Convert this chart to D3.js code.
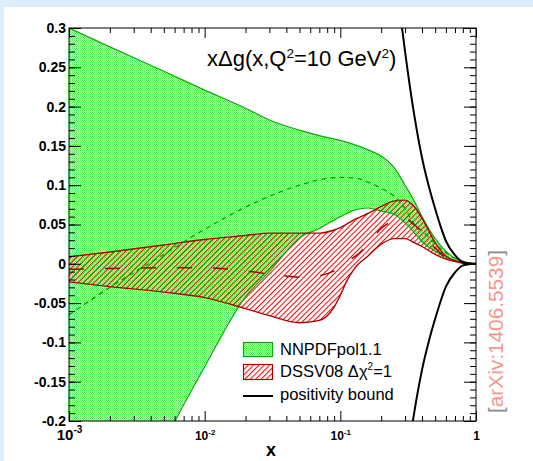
<!DOCTYPE html>
<html>
<head>
<meta charset="utf-8">
<script src="https://cdn.jsdelivr.net/npm/d3@7"></script>
<style>
  html, body { margin: 0; padding: 0; background: #ddedfa; }
  svg { display: block; }
  text { font-family: "Liberation Sans", Arial, Helvetica, sans-serif; }
</style>
</head>
<body>
<svg id="chart" width="533" height="461"></svg>
<script>
// ---- NNPDFpol1.1 band: x, upper edge, central value, lower edge ----
const xNNPDF      = [0.001, 0.002, 0.005, 0.01, 0.02, 0.03, 0.05, 0.07, 0.1, 0.13, 0.16, 0.2, 0.25, 0.3, 0.35, 0.4, 0.5, 0.6, 0.7, 0.8, 0.9, 1.0];
const nnpdfUpper  = [0.300, 0.276, 0.245, 0.221, 0.198, 0.183, 0.170, 0.163, 0.157, 0.151, 0.145, 0.137, 0.122, 0.100, 0.080, 0.060, 0.032, 0.016, 0.007, 0.003, 0.001, 0];
const nnpdfCentral= [-0.065, -0.030, 0.012, 0.044, 0.072, 0.086, 0.100, 0.107, 0.110, 0.109, 0.104, 0.096, 0.086, 0.070, 0.050, 0.042, 0.026, 0.014, 0.007, 0.003, 0.001, 0];
const nnpdfLower  = [-0.58, -0.40, -0.229, -0.131, -0.042, -0.010, 0.033, 0.045, 0.060, 0.069, 0.071, 0.067, 0.063, 0.052, 0.040, 0.028, 0.016, 0.008, 0.004, 0.0015, 0.0004, 0];

// ---- DSSV08 band (delta chi^2 = 1) ----
const xDSSV       = [0.001, 0.002, 0.005, 0.01, 0.02, 0.03, 0.05, 0.07, 0.09, 0.1, 0.11, 0.13, 0.16, 0.2, 0.25, 0.3, 0.35, 0.4, 0.5, 0.6, 0.7, 0.8, 0.9, 1.0];
const dssvUpper   = [0.009, 0.015, 0.024, 0.031, 0.036, 0.039, 0.039, 0.039, 0.043, 0.046, 0.050, 0.057, 0.064, 0.073, 0.080, 0.081, 0.073, 0.058, 0.027, 0.010, 0.004, 0.001, 0.0003, 0];
const dssvCentral = [-0.007, -0.006, -0.005, -0.005, -0.009, -0.013, -0.017, -0.015, -0.009, -0.004, 0.002, 0.010, 0.025, 0.045, 0.055, 0.057, 0.050, 0.040, 0.020, 0.008, 0.003, 0.001, 0.0002, 0];
const dssvLower   = [-0.023, -0.029, -0.036, -0.043, -0.057, -0.066, -0.075, -0.072, -0.055, -0.040, -0.024, -0.004, 0.010, 0.025, 0.032, 0.032, 0.027, 0.022, 0.012, 0.006, 0.003, 0.001, 0.0002, 0];

// ---- positivity bound |x Δg| <= x g ----
const xPositivity = [0.22, 0.25, 0.28, 0.3, 0.35, 0.4, 0.45, 0.5, 0.55, 0.6, 0.7, 0.8, 0.9, 1.0];
const positivity  = [0.45, 0.37, 0.31, 0.27, 0.19, 0.135, 0.098, 0.07, 0.047, 0.029, 0.011, 0.002, 0.0004, 0];

// ---- axis ticks ----
const yMajorTicks  = [0.3, 0.25, 0.2, 0.15, 0.1, 0.05, 0, -0.05, -0.1, -0.15, -0.2];
const yTickLabels  = ["0.3", "0.25", "0.2", "0.15", "0.1", "0.05", "0", "-0.05", "-0.1", "-0.15", "-0.2"];
const xMajorTicks  = [0.001, 0.01, 0.1, 1];
const xTickBases   = ["10", "10", "10", "1"];
const xTickExps    = ["-3", "-2", "-1", ""];

const legendLabels = ["NNPDFpol1.1", "DSSV08 Δχ²=1", "positivity bound"];

// ---------------------------------------------------------------
const W = 533, H = 461;
const plot = { left: 69, right: 476, top: 28, bottom: 421 };

const svg = d3.select("#chart");

svg.append("rect").attr("x", 4).attr("y", 7).attr("width", W - 4).attr("height", H - 7).attr("fill", "#ffffff");

const x = d3.scaleLog().domain([0.001, 1]).range([plot.left, plot.right]);
const y = d3.scaleLinear().domain([-0.2, 0.3]).range([plot.bottom, plot.top]);

const defs = svg.append("defs");

// dotted green fill with faint horizontal banding
const gp = defs.append("pattern").attr("id", "greenFill")
  .attr("patternUnits", "userSpaceOnUse").attr("width", 2).attr("height", 4);
const gCells = [
  [0, 0, "#55ea55"], [1, 0, "#c8ffc8"],
  [0, 1, "#c8ffc8"], [1, 1, "#55ea55"],
  [0, 2, "#55ea55"], [1, 2, "#c8ffc8"],
  [0, 3, "#8cf58c"], [1, 3, "#8cf58c"]
];
gp.selectAll("rect").data(gCells).join("rect")
  .attr("x", d => d[0]).attr("y", d => d[1]).attr("width", 1).attr("height", 1)
  .attr("fill", d => d[2]).attr("shape-rendering", "crispEdges");

// red diagonal hatching
const hatchStep = 3.8;
const rp = defs.append("pattern").attr("id", "redHatch")
  .attr("patternUnits", "userSpaceOnUse").attr("width", hatchStep).attr("height", hatchStep)
  .attr("patternTransform", "rotate(45)");
rp.append("line").attr("x1", 0.5).attr("y1", 0).attr("x2", 0.5).attr("y2", hatchStep)
  .attr("stroke", "#ff0000").attr("stroke-width", 1);

defs.append("clipPath").attr("id", "plotClip").append("rect")
  .attr("x", plot.left).attr("y", plot.top)
  .attr("width", plot.right - plot.left).attr("height", plot.bottom - plot.top);

const g = svg.append("g").attr("clip-path", "url(#plotClip)");

const curve = d3.curveMonotoneX;
const bandArea = (xs, lo, hi) => d3.area()
  .x((d, i) => x(xs[i])).y0((d, i) => y(lo[i])).y1((d, i) => y(hi[i])).curve(curve)(xs);
const linePath = (xs, vs) => d3.line()
  .x((d, i) => x(xs[i])).y((d, i) => y(vs[i])).curve(curve)(xs);

// bands
g.append("path").attr("d", bandArea(xNNPDF, nnpdfLower, nnpdfUpper)).attr("fill", "url(#greenFill)");
g.append("path").attr("d", bandArea(xDSSV, dssvLower, dssvUpper)).attr("fill", "url(#redHatch)");

// band edges
[nnpdfUpper, nnpdfLower].forEach(v =>
  g.append("path").attr("d", linePath(xNNPDF, v)).attr("fill", "none")
    .attr("stroke", "#12a812").attr("stroke-width", 1.2));
[dssvUpper, dssvLower].forEach(v =>
  g.append("path").attr("d", linePath(xDSSV, v)).attr("fill", "none")
    .attr("stroke", "#b00000").attr("stroke-width", 1.4));

// central values
g.append("path").attr("d", linePath(xNNPDF, nnpdfCentral)).attr("fill", "none")
  .attr("stroke", "#0e990e").attr("stroke-width", 1.3).attr("stroke-dasharray", "5,4");
g.append("path").attr("d", linePath(xDSSV, dssvCentral)).attr("fill", "none")
  .attr("stroke", "#a80000").attr("stroke-width", 1.5).attr("stroke-dasharray", "15,21");

// positivity bound, both signs
g.append("path").attr("d", linePath(xPositivity, positivity)).attr("fill", "none")
  .attr("stroke", "#000").attr("stroke-width", 2);
g.append("path").attr("d", linePath(xPositivity, positivity.map(v => -v))).attr("fill", "none")
  .attr("stroke", "#000").attr("stroke-width", 2);

// ---- axes ----
const yMinor = d3.range(-20, 31).map(k => k / 100);
const xMinor = [];
[0.001, 0.01, 0.1].forEach(dec => { for (let m = 2; m <= 9; m++) xMinor.push(dec * m); });

function styleAxis(sel) {
  sel.select(".domain").remove();
  sel.selectAll(".tick line").attr("stroke", "#000").attr("stroke-width", 1);
}

svg.append("g").attr("transform", `translate(${plot.left},0)`)
  .call(d3.axisLeft(y).tickValues(yMinor).tickSize(-6).tickSizeOuter(0).tickFormat(""))
  .call(styleAxis);
const yAxisL = svg.append("g").attr("transform", `translate(${plot.left},0)`)
  .call(d3.axisLeft(y).tickValues(yMajorTicks).tickSize(-12).tickSizeOuter(0).tickPadding(3)
    .tickFormat((d, i) => yTickLabels[i]))
  .call(styleAxis);
yAxisL.selectAll(".tick text")
  .attr("font-family", "'Liberation Sans', Arial, sans-serif")
  .attr("font-size", 14).attr("font-weight", "bold").attr("fill", "#000");

svg.append("g").attr("transform", `translate(${plot.right},0)`)
  .call(d3.axisRight(y).tickValues(yMinor).tickSize(-6).tickSizeOuter(0).tickFormat(""))
  .call(styleAxis);
svg.append("g").attr("transform", `translate(${plot.right},0)`)
  .call(d3.axisRight(y).tickValues(yMajorTicks).tickSize(-12).tickSizeOuter(0).tickFormat(""))
  .call(styleAxis);

svg.append("g").attr("transform", `translate(0,${plot.bottom})`)
  .call(d3.axisBottom(x).tickValues(xMinor).tickSize(-5).tickSizeOuter(0).tickFormat(""))
  .call(styleAxis);
const xAxisB = svg.append("g").attr("transform", `translate(0,${plot.bottom})`)
  .call(d3.axisBottom(x).tickValues(xMajorTicks).tickSize(-10).tickSizeOuter(0).tickFormat(""))
  .call(styleAxis);
svg.append("g").attr("transform", `translate(0,${plot.top})`)
  .call(d3.axisTop(x).tickValues(xMinor).tickSize(-5).tickSizeOuter(0).tickFormat(""))
  .call(styleAxis);
svg.append("g").attr("transform", `translate(0,${plot.top})`)
  .call(d3.axisTop(x).tickValues(xMajorTicks).tickSize(-10).tickSizeOuter(0).tickFormat(""))
  .call(styleAxis);

// decade labels as 10^n
xAxisB.selectAll(".tick").each(function (d, i) {
  const big = i === 0;
  const t = d3.select(this).select("text")
    .attr("y", 19).attr("dy", null)
    .attr("text-anchor", "middle").attr("font-weight", "bold").attr("fill", "#000")
    .attr("font-family", "'Liberation Sans', Arial, sans-serif")
    .attr("font-size", big ? 15 : 12);
  t.text(null);
  t.append("tspan").text(xTickBases[i]);
  if (xTickExps[i]) {
    t.append("tspan").attr("font-size", big ? 10 : 8).attr("dy", big ? -7 : -5).text(xTickExps[i]);
  }
});

// frame
svg.append("rect").attr("x", plot.left).attr("y", plot.top)
  .attr("width", plot.right - plot.left).attr("height", plot.bottom - plot.top)
  .attr("fill", "none").attr("stroke", "#000").attr("stroke-width", 1);

// axis title
svg.append("text").attr("x", 271).attr("y", 456).attr("text-anchor", "middle")
  .attr("font-size", 18).attr("font-weight", "bold").text("x");

// plot title
const title = svg.append("text").attr("x", 207).attr("y", 66).attr("font-size", 22).attr("fill", "#000");
title.append("tspan").text("xΔg(x,Q");
title.append("tspan").attr("font-size", 13.5).attr("dy", -8).text("2");
title.append("tspan").attr("dy", 8).text("=10 GeV");
title.append("tspan").attr("font-size", 13.5).attr("dy", -8).text("2");
title.append("tspan").attr("dy", 8).text(")");

// ---- legend ----
const lg = svg.append("g");
lg.append("rect").attr("x", 243.5).attr("y", 342.5).attr("width", 29).attr("height", 14)
  .attr("fill", "url(#greenFill)").attr("stroke", "#12a812").attr("stroke-width", 1.2);
lg.append("rect").attr("x", 243.5).attr("y", 364.5).attr("width", 29).attr("height", 15)
  .attr("fill", "url(#redHatch)").attr("stroke", "#b00000").attr("stroke-width", 1.2);
lg.append("line").attr("x1", 243).attr("x2", 273).attr("y1", 396).attr("y2", 396)
  .attr("stroke", "#000").attr("stroke-width", 2);
const legendY = [355, 377, 400];
legendLabels.forEach((s, i) => {
  const t = lg.append("text").attr("x", 280).attr("y", legendY[i]).attr("font-size", 16.5).attr("fill", "#000");
  if (i === 1) {
    t.append("tspan").text("DSSV08 Δχ");
    t.append("tspan").attr("font-size", 10).attr("dy", -7).text("2");
    t.append("tspan").attr("dy", 7).text("=1");
  } else {
    t.text(s);
  }
});

// ---- preprint reference ----
const ref = svg.append("text")
  .attr("transform", `translate(503,331.5) rotate(-90)`)
  .attr("text-anchor", "middle").attr("font-size", 21)
  .attr("textLength", 163).attr("lengthAdjust", "spacingAndGlyphs");
ref.append("tspan").attr("fill", "#8a8a8a").text("[");
ref.append("tspan").attr("fill", "#f4978e").text("arXiv:1406.5539");
ref.append("tspan").attr("fill", "#8a8a8a").text("]");
</script>
</body>
</html>
